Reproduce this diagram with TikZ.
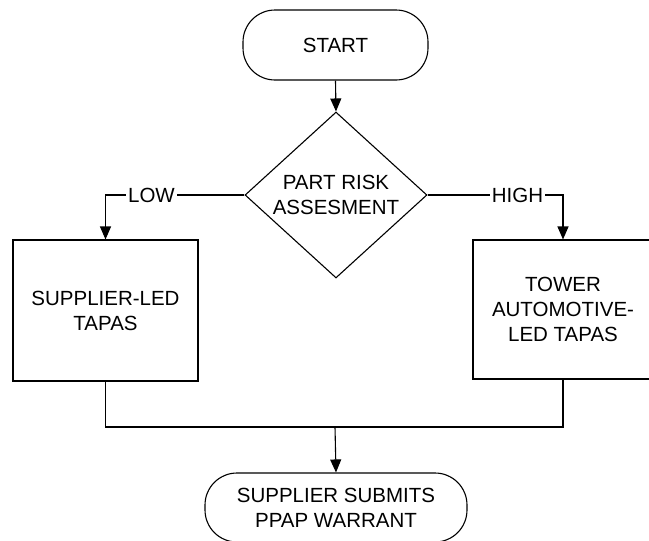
\documentclass[tikz,border=0pt]{standalone}
\usepackage{fontspec}
\setmainfont{Liberation Sans}
\usetikzlibrary{shapes.geometric,arrows.meta}
\begin{document}
\begin{tikzpicture}[x=1pt,y=-1pt,
  every node/.style={font=\fontsize{20.5pt}{25pt}\selectfont, align=center},
  line/.style={draw=black, line width=1.1pt},
  arr/.style={line, -{Triangle[length=13pt,width=11pt]}},
  term/.style={line, rounded corners=32pt, inner sep=0pt},
  procbox/.style={line, inner sep=0pt},
  decide/.style={line, shape=diamond, inner sep=0pt, minimum width=182pt, minimum height=134pt},
  lbl/.style={fill=white, inner sep=2pt}]
\useasboundingbox (0,0) rectangle (649,541);
\clip (0,0) rectangle (649,541);
\node[term, minimum width=185pt, minimum height=70pt] (start) at (335.5,45) {START};
\node[decide] (dia) at (336,195) {PART RISK\\ASSESMENT};
\node[procbox, minimum width=185pt, minimum height=141pt] (lbox) at (105.5,310.5) {SUPPLIER-LED\\TAPAS};
\node[procbox, minimum width=180pt, minimum height=139pt] (rbox) at (563,309.5) {TOWER\\AUTOMOTIVE-\\LED TAPAS};
\node[term, minimum width=262pt, minimum height=69pt] (finish) at (336,507.5) {SUPPLIER SUBMITS\\PPAP WARRANT};
\coordinate (m) at (335,427);
\draw[arr] (start.south) -- (dia.north);
\draw[arr] (dia.west) -| (lbox.north);
\draw[arr] (dia.east) -| (rbox.north);
\node[lbl] (low) at (151.5,195) {LOW};
\node[lbl] (high) at (517.5,195) {HIGH};
\draw[line] (lbox.south) |- (m) -| (rbox.south);
\draw[arr] (m) -- (finish.north);
\end{tikzpicture}
\end{document}
